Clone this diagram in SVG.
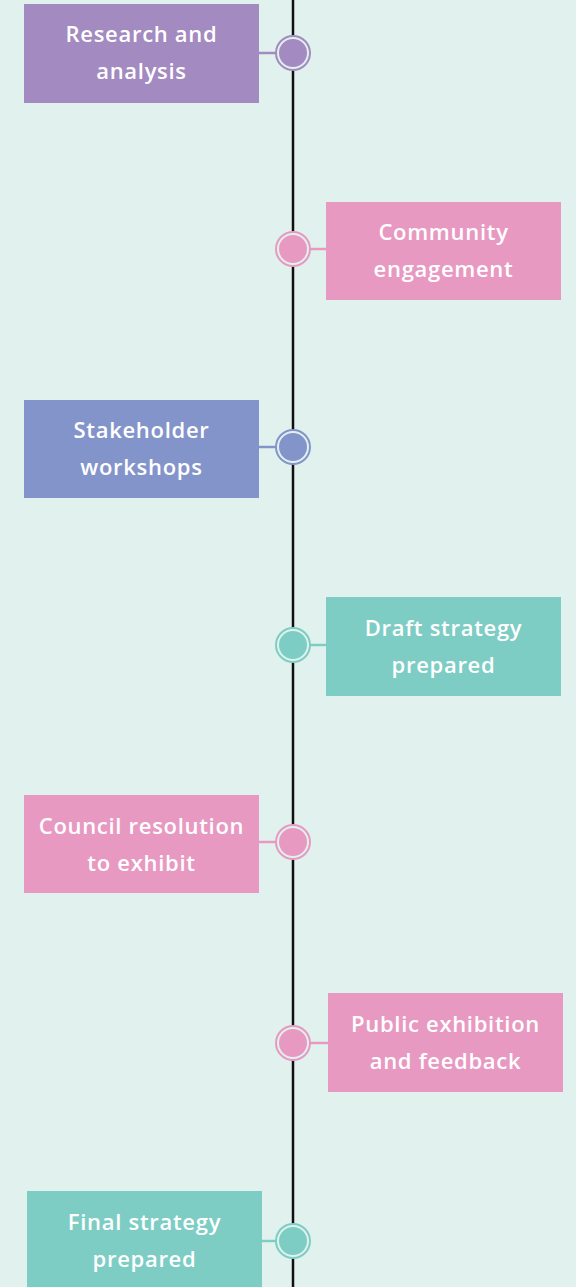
<svg xmlns="http://www.w3.org/2000/svg" width="576" height="1287" viewBox="0 0 576 1287">
<style>
.bg{fill:#e1f2ee}
.t{font-family:"Open Sans","Liberation Sans",sans-serif;font-size:22px;font-weight:600;letter-spacing:0.7px;fill:#ffffff;text-anchor:middle}
.ring{stroke:#e1f2ee;stroke-width:2}
.purple{fill:#a38ac0}.pink{fill:#e899c2}.blue{fill:#8394cb}.teal{fill:#7dcdc4}
.cpurple{stroke:#a38ac0}.cpink{stroke:#e899c2}.cblue{stroke:#8394cb}.cteal{stroke:#7dcdc4}
.conn line{stroke-width:2.5}
</style>
<rect class="bg" x="0" y="0" width="576" height="1287"/>
<g id="connectors">
<line x1="293" y1="0" x2="293" y2="1287" stroke="#111" stroke-width="2.5"/>
<g class="conn">
<line class="cpurple" x1="259" y1="53" x2="277" y2="53"/>
<line class="cpink" x1="309" y1="249" x2="326" y2="249"/>
<line class="cblue" x1="259" y1="447" x2="277" y2="447"/>
<line class="cteal" x1="309" y1="645" x2="326" y2="645"/>
<line class="cpink" x1="259" y1="842" x2="277" y2="842"/>
<line class="cpink" x1="309" y1="1043" x2="328" y2="1043"/>
<line class="cteal" x1="262" y1="1241" x2="277" y2="1241"/>
</g>
</g>
<g id="n1">
<rect class="purple" x="24" y="4" width="235" height="99"/>
<text class="t" x="141.5" y="42">Research and</text>
<text class="t" x="141.5" y="79">analysis</text>
<circle class="purple" cx="293" cy="53" r="18"/>
<circle class="purple ring" cx="293" cy="53" r="15"/>
</g>
<g id="n2">
<rect class="pink" x="326" y="202" width="235" height="98"/>
<text class="t" x="443.5" y="240">Community</text>
<text class="t" x="443.5" y="277">engagement</text>
<circle class="pink" cx="293" cy="249" r="18"/>
<circle class="pink ring" cx="293" cy="249" r="15"/>
</g>
<g id="n3">
<rect class="blue" x="24" y="400" width="235" height="98"/>
<text class="t" x="141.5" y="438">Stakeholder</text>
<text class="t" x="141.5" y="475">workshops</text>
<circle class="blue" cx="293" cy="447" r="18"/>
<circle class="blue ring" cx="293" cy="447" r="15"/>
</g>
<g id="n4">
<rect class="teal" x="326" y="597" width="235" height="99"/>
<text class="t" x="443.5" y="636">Draft strategy</text>
<text class="t" x="443.5" y="673">prepared</text>
<circle class="teal" cx="293" cy="645" r="18"/>
<circle class="teal ring" cx="293" cy="645" r="15"/>
</g>
<g id="n5">
<rect class="pink" x="24" y="795" width="235" height="98"/>
<text class="t" x="141.5" y="834">Council resolution</text>
<text class="t" x="141.5" y="871">to exhibit</text>
<circle class="pink" cx="293" cy="842" r="18"/>
<circle class="pink ring" cx="293" cy="842" r="15"/>
</g>
<g id="n6">
<rect class="pink" x="328" y="993" width="235" height="99"/>
<text class="t" x="445.5" y="1032">Public exhibition</text>
<text class="t" x="445.5" y="1069">and feedback</text>
<circle class="pink" cx="293" cy="1043" r="18"/>
<circle class="pink ring" cx="293" cy="1043" r="15"/>
</g>
<g id="n7">
<rect class="teal" x="27" y="1191" width="235" height="99"/>
<text class="t" x="144.5" y="1230">Final strategy</text>
<text class="t" x="144.5" y="1267">prepared</text>
<circle class="teal" cx="293" cy="1241" r="18"/>
<circle class="teal ring" cx="293" cy="1241" r="15"/>
</g>
</svg>
